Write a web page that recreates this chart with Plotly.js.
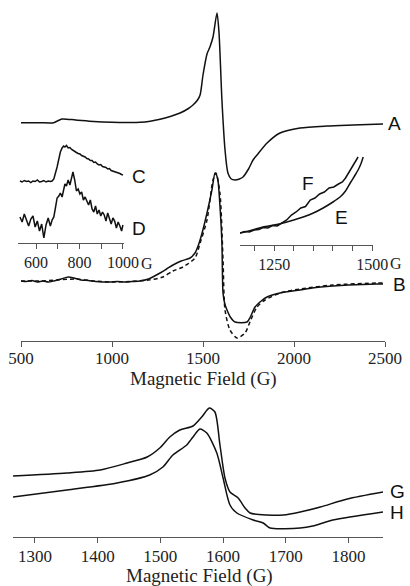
<!DOCTYPE html>
<html><head><meta charset="utf-8">
<script src="https://cdn.plot.ly/plotly-3.0.1.min.js"></script>
<style>html,body{margin:0;padding:0;background:#fff}#chart{width:410px;height:586px}</style>
</head><body><div id="chart"></div>
<script>
// Spectrum A (top panel), field in G, intensity in arbitrary units (stacked offset)
var fieldA = [500,600,680,700,725,800,900,1000,1100,1154,1210,1264,1320,1374,1420,1445,1470,1484,1500,1522,1538,1555,1577,1588,1604,1621,1637,1655,1676,1700,1720,1750,1775,1797,1852,1923,2033,2181,2324,2489];
var intA   = [218.3,218.3,218.3,220,222,221,219.5,218.7,218.5,218.7,219.8,221.7,224.5,228,232.5,236,241,246,266,287,294,304,328,308,241,191,168,162,161,162,164,172,181,186,198,208,213,215,216,217];

// Spectrum B solid
var fieldB = [500,530,560,590,620,650,680,720,760,790,830,870,910,950,990,1030,1070,1110,1154,1200,1264,1300,1335,1380,1429,1456,1475,1495,1522,1549,1566,1574,1582,1595,1604,1610,1620,1632,1650,1676,1742,1760,1786,1820,1852,1923,2033,2100,2214,2300,2456,2489];
var intB   = [60,59.5,60.5,59,60,59,60,62,64,63,61,60.5,59.5,59,59,59.5,59,59.5,60,62,68,72,76,80,83,88,96,108,128,151,168,166,161,130,98,48,37,31,24,19,19,24,34,40,44,48,51,53,55,56,57,57];
// Spectrum B dashed (simulation)
var fieldBd = [500,600,700,800,900,1000,1100,1200,1280,1335,1390,1456,1484,1522,1555,1571,1593,1610,1621,1648,1687,1731,1760,1797,1841,1923,2033,2214,2456,2489];
var intBd   = [60,60,61,62,60,59,59.5,61,64,70,74,83,98,121,161,168,148,81,31,11,3,8,20,34,41,48,52,56,58,58];

// Inset C and D (600-1000 G)
var fieldCD = [526,536,546,556,566,576,586,596,606,616,626,636,646,656,666,674,682,690,697,705,712,720,727,733,740,748,756,764,770,778,786,794,802,810,818,826,834,842,850,858,866,874,882,890,898,906,914,922,930,938,946,954,962,970,978,986,994,1000];
var intC    = [62,61,62.5,61.5,62,60.5,62,61.5,63,61,61.5,62.5,61,62,61.5,62,64,70,76,84,91,95,97,96,97.5,95,95.5,93.5,92.5,92,90.5,89.5,89,87.5,87,86,84.5,84,82.5,82.5,80.5,81,79,78,78.5,76.5,76,75.5,74,74.5,72.5,72,71.5,70.5,70,69.5,68.5,68];
var intD    = [26,21,29,23,17,24,27,16,22,12,19,5,18,25,17,23,26,36,45,47,50,46,55,59,57,63,58,64,71,63,52,54,49,51,43,46,42,38,43,34,31,37,29,33,27,31,28,22,30,24,19,25,22,15,21,17,12,18];

// Inset E and F (1250-1500 G)
var fieldE = [1163,1190,1222,1250,1273,1300,1324,1350,1375,1400,1418,1432,1444,1455,1464,1471,1477];
var intE   = [12,14.5,18,20,22,25,28,32,37,43,48,54,62,69,75,81,88];
var fieldF = [1163,1175,1187,1199,1211,1222,1234,1246,1258,1270,1282,1294,1306,1318,1330,1342,1354,1366,1378,1390,1402,1414,1424,1432,1440,1448,1456,1464];
var intF   = [12,13.5,13,15,15.5,17.5,17,19.5,19,22,25,30,33,37,38.5,45,47,51,53,57,58,61,63,67,72,77,83,88];

// Bottom panel G and H
var fieldG = [1265,1351,1404,1447,1479,1499,1515,1531,1552,1566,1578,1587,1595,1603,1611,1624,1635,1643,1670,1696,1723,1755,1798,1855];
var intG   = [61,64,67,74,80,89,100,107,111,120,129,125,92,59,45,39,29,24,22,22,25,30,38,45];
var fieldH = [1265,1351,1431,1483,1504,1520,1542,1552,1563,1574,1590,1600,1611,1622,1648,1664,1675,1723,1743,1775,1855];
var intH   = [40,47,54,62,70,82,92,100,108,104,84,59,32,24,17,14,9,9,11,17,25];

var mainTicks = [500,1000,1500,2000,2500];
var insetCDTicks = [600,700,800,900,1000];
var insetCDText = ['600','','800','','1000'];
var insetEFTicks = [1200,1250,1300,1350,1400,1450,1500];
var insetEFText = ['','1250','','','','','1500'];
var bottomTicks = [1300,1400,1500,1600,1700,1800];
var axisTitle = 'Magnetic Field (G)';

var W = 410, H = 586;
function px(x){return x/W;}
function py(y){return 1-y/H;}

var ink = '#111';
function ln(x,y,xa,ya,smooth,dash){return {x:x,y:y,xaxis:xa,yaxis:ya,mode:'lines',type:'scatter',
  line:{color:ink,width:1.5,dash:dash||'solid',shape:smooth?'spline':'linear',smoothing:0.7},hoverinfo:'skip',showlegend:false};}

var data = [
  ln(fieldA,intA,'x','y',true),
  ln(fieldB,intB,'x','y',true),
  ln(fieldBd,intBd,'x','y',true,'4px,3px'),
  ln(fieldCD,intC,'x2','y2',false),
  ln(fieldCD,intD,'x2','y2',false),
  ln(fieldE,intE,'x3','y3',true),
  ln(fieldF,intF,'x3','y3',false),
  ln(fieldG,intG,'x4','y4',true),
  ln(fieldH,intH,'x4','y4',true)
];

var serif = 'Liberation Serif, Times New Roman, serif';
var sans = 'Liberation Sans, Arial, sans-serif';
function xax(dom,range,anchor,tickvals,ticktext,fs,lso){
  return {domain:dom,range:range,anchor:anchor,showline:true,linecolor:'#555',linewidth:1,
    ticks:'outside',ticklen:5,tickcolor:'#555',tickwidth:1,showgrid:false,zeroline:false,
    tickmode:'array',tickvals:tickvals,ticktext:ticktext||tickvals.map(String),
    tickfont:{family:serif,size:fs,color:'#222'},fixedrange:true,ticklabelstandoff:lso||0};
}
function yax(dom,range,anchor){return {domain:dom,range:range,anchor:anchor,visible:false,fixedrange:true};}

var layout = {
  width:W,height:H,margin:{l:0,r:0,t:0,b:0},paper_bgcolor:'#fff',plot_bgcolor:'rgba(0,0,0,0)',
  showlegend:false,
  xaxis: xax([px(21),px(385)],[500,2500],'y',mainTicks,null,17,-3),
  yaxis: yax([py(341),py(0)],[0,341],'x'),
  xaxis2: xax([px(18),px(124)],[517,1005],'y2',insetCDTicks,insetCDText,16),
  yaxis2: yax([py(243),py(130)],[0,113],'x2'),
  xaxis3: xax([px(240),px(373)],[1163,1502],'y3',insetEFTicks,insetEFText,16),
  yaxis3: yax([py(245),py(140)],[0,105],'x3'),
  xaxis4: xax([px(13),px(383)],[1265,1855],'y4',bottomTicks,null,17,-1),
  yaxis4: yax([py(537),py(395)],[0,142],'x4'),
  annotations: [
    ['A',386,123],['B',391,284],['C',130,176],['D',130,228],['E',333,217],['F',300,183],['G',388,492],['H',388,512]
  ].map(function(a){return {text:a[0],xref:'paper',yref:'paper',x:px(a[1]),y:py(a[2]),xanchor:'left',yanchor:'middle',
    showarrow:false,font:{family:sans,size:19,color:'#111'}};}).concat([
    {text:'G',xref:'paper',yref:'paper',x:px(139),y:py(263),xanchor:'left',yanchor:'middle',showarrow:false,font:{family:serif,size:16,color:'#222'}},
    {text:'G',xref:'paper',yref:'paper',x:px(388),y:py(263),xanchor:'left',yanchor:'middle',showarrow:false,font:{family:serif,size:16,color:'#222'}},
    {text:axisTitle,xref:'paper',yref:'paper',x:px(203),y:py(379),xanchor:'center',yanchor:'middle',showarrow:false,font:{family:serif,size:19,color:'#222'}},
    {text:axisTitle,xref:'paper',yref:'paper',x:px(199),y:py(576),xanchor:'center',yanchor:'middle',showarrow:false,font:{family:serif,size:19,color:'#222'}}
  ])
};
Plotly.newPlot('chart',data,layout,{displayModeBar:false,staticPlot:true});
</script></body></html>
